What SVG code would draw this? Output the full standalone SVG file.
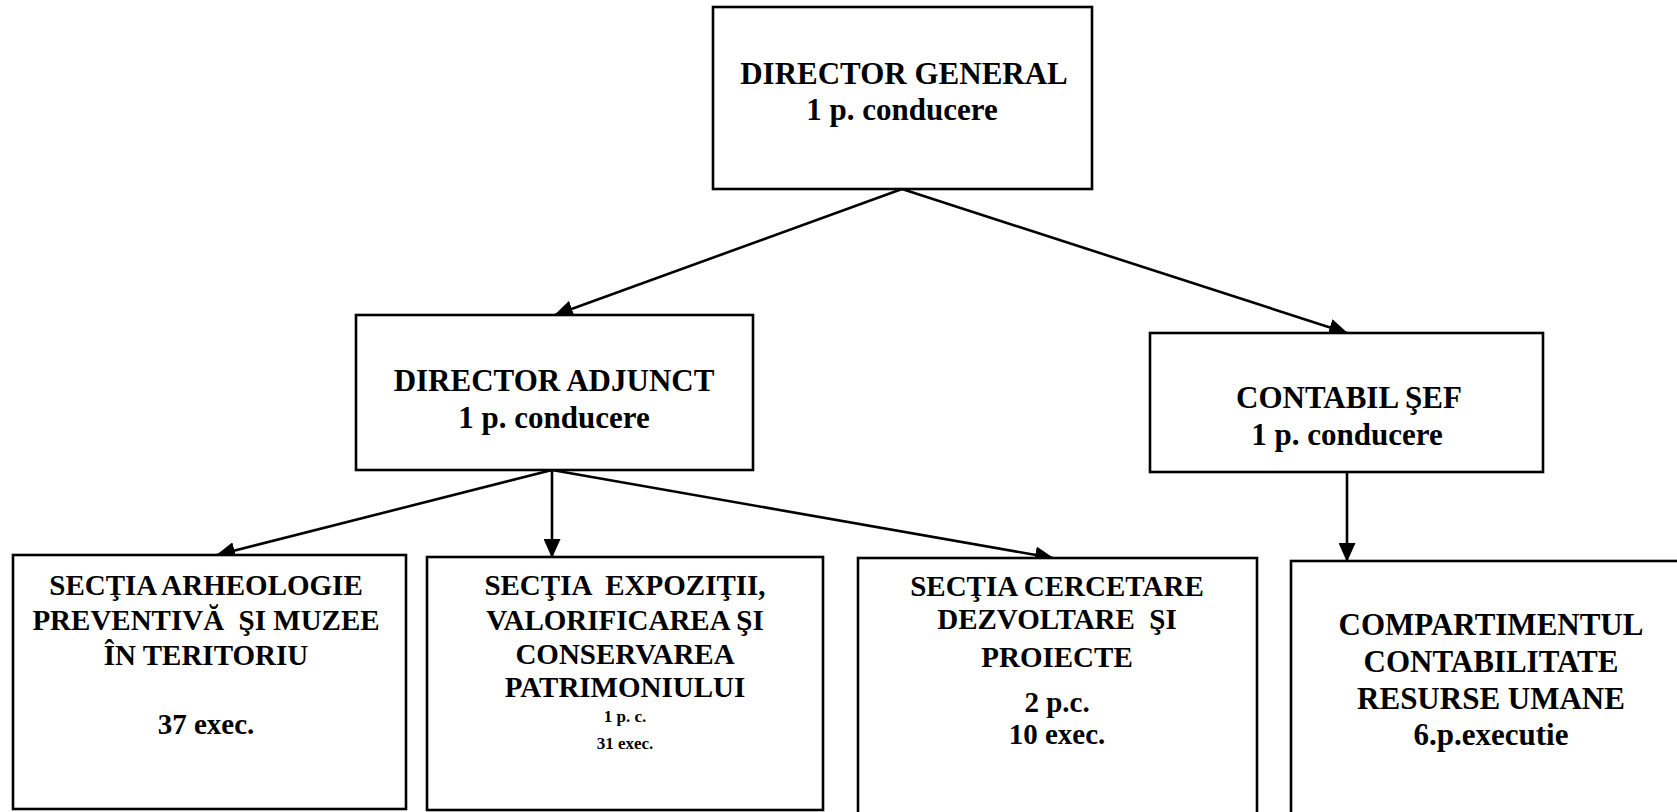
<svg xmlns="http://www.w3.org/2000/svg" width="1677" height="812" viewBox="0 0 1677 812">
<style>
  .box { fill: #fff; stroke: #000; stroke-width: 2.6; }
  .t { font-family: 'Liberation Serif', 'Times New Roman', serif; font-weight: bold; font-size: 29px; fill: #000; text-anchor: middle; }
  .l { font-size: 31px; }
  .s { font-size: 17px; }
  .conn { stroke: #000; stroke-width: 2.6; fill: none; marker-end: url(#arr); }
</style>
<defs>
  <marker id="arr" markerUnits="userSpaceOnUse" markerWidth="19" markerHeight="17" viewBox="0 0 19 17" refX="18" refY="8.5" orient="auto">
    <path d="M0,0 L19,8.5 L0,17 Z" fill="#000"/>
  </marker>
</defs>
<rect width="1677" height="812" fill="#fff"/>

<g id="connectors">
  <line class="conn" x1="902" y1="189" x2="555" y2="315"/>
  <line class="conn" x1="902" y1="189" x2="1347" y2="333"/>
  <line class="conn" x1="552" y1="470" x2="217" y2="555"/>
  <line class="conn" x1="552" y1="470" x2="552" y2="557"/>
  <line class="conn" x1="552" y1="470" x2="1053" y2="558"/>
  <line class="conn" x1="1347" y1="472" x2="1347" y2="561"/>
</g>

<g id="director-general">
  <rect class="box" x="713" y="7" width="379" height="182"/>
  <text class="t l" x="904" y="84">DIRECTOR GENERAL</text>
  <text class="t l" x="902" y="120">1 p. conducere</text>
</g>

<g id="director-adjunct">
  <rect class="box" x="356" y="315" width="397" height="155"/>
  <text class="t l" x="554" y="391">DIRECTOR ADJUNCT</text>
  <text class="t l" x="554" y="428">1 p. conducere</text>
</g>

<g id="contabil-sef">
  <rect class="box" x="1150" y="333" width="393" height="139"/>
  <text class="t l" x="1349" y="408">CONTABIL ŞEF</text>
  <text class="t l" x="1347" y="445">1 p. conducere</text>
</g>

<g id="sectia-arheologie">
  <rect class="box" x="13" y="555" width="393" height="254"/>
  <text class="t" x="206" y="595">SECŢIA ARHEOLOGIE</text>
  <text class="t" x="206" y="630" xml:space="preserve">PREVENTIVĂ  ŞI MUZEE</text>
  <text class="t" x="206" y="665">ÎN TERITORIU</text>
  <text class="t" x="206" y="734">37 exec.</text>
</g>

<g id="sectia-expozitii">
  <rect class="box" x="427" y="557" width="396" height="253"/>
  <text class="t" x="625" y="595" xml:space="preserve">SECŢIA  EXPOZIŢII,</text>
  <text class="t" x="625" y="630">VALORIFICAREA ŞI</text>
  <text class="t" x="625" y="664">CONSERVAREA</text>
  <text class="t" x="625" y="697">PATRIMONIULUI</text>
  <text class="t s" x="625" y="722">1 p. c.</text>
  <text class="t s" x="625" y="749">31 exec.</text>
</g>

<g id="sectia-cercetare">
  <rect class="box" x="858" y="558" width="399" height="270"/>
  <text class="t" x="1057" y="596">SECŢIA CERCETARE</text>
  <text class="t" x="1057" y="629" xml:space="preserve">DEZVOLTARE  ŞI</text>
  <text class="t" x="1057" y="667">PROIECTE</text>
  <text class="t" x="1057" y="712">2 p.c.</text>
  <text class="t" x="1057" y="744">10 exec.</text>
</g>

<g id="compartimentul">
  <rect class="box" x="1291" y="561" width="420" height="270"/>
  <text class="t l" x="1491" y="635">COMPARTIMENTUL</text>
  <text class="t l" x="1491" y="672">CONTABILITATE</text>
  <text class="t l" x="1491" y="709">RESURSE UMANE</text>
  <text class="t l" x="1491" y="745">6.p.executie</text>
</g>
</svg>
